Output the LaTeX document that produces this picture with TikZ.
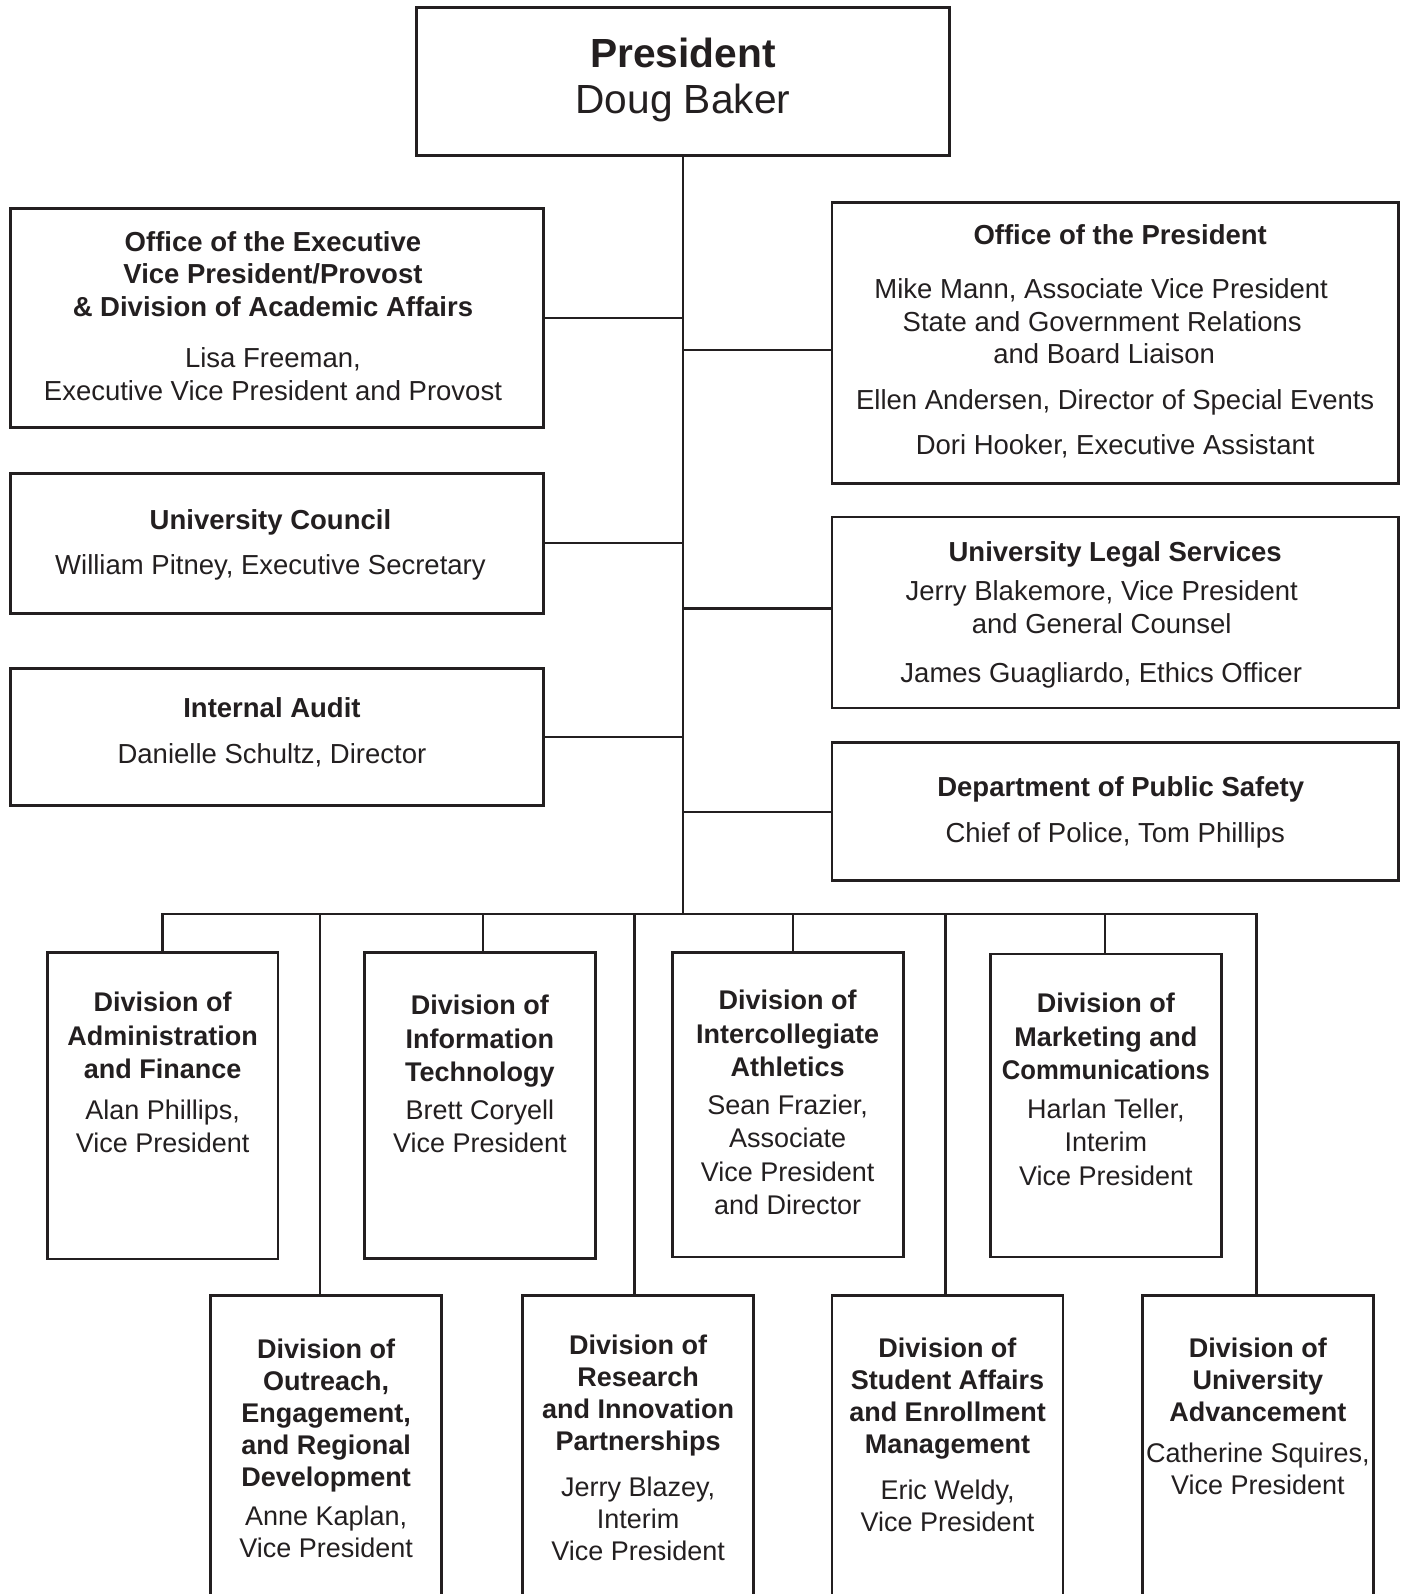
\documentclass[tikz,border=0pt]{standalone}
\usepackage{fontspec}
\usepackage{graphicx}
\setmainfont{Liberation Sans}
\usetikzlibrary{positioning}
\definecolor{ink}{RGB}{35,31,32}

\begin{document}
\begin{tikzpicture}
  [
    x = 1pt, y = -1pt, color = ink,
    box/.style = {draw, line width = 2.8pt, inner sep = 0pt, anchor = north west},
    link/.style = {line width = 2.3pt},
    txt/.style = {align = center, inner sep = 0pt,
                  font = \fontsize{27.5}{32.5}\selectfont},
    divtxt/.style = {txt, font = \fontsize{27}{33.5}\selectfont},
    divlow/.style = {txt, font = \fontsize{27}{32}\selectfont},
    bigtxt/.style = {txt, font = \fontsize{40.7}{46}\selectfont}
  ]
  \useasboundingbox (0,0) rectangle (1401,1594);
  \clip (0,0) rectangle (1401,1594);

  % president
  \node [box, minimum width = 533, minimum height = 148.5] (Pres) at (415,6) {};
  \node [bigtxt, below = 31.7pt of Pres.north] (PresT)
    {\textbf{President}\\ Doug Baker};

  % left column
  \node [box, minimum width = 532.7, minimum height = 218.6] (Prov) at (9.2,207.4) {};
  \node [txt, below = 23.6pt of Prov.north, xshift = -4pt] (ProvT)
    {\textbf{Office of the Executive}\\
     \textbf{Vice President/Provost}\\
     \textbf{\& Division of Academic Affairs}\\[19pt]
     Lisa Freeman,\\
     Executive Vice President and Provost};
  \node [box, minimum width = 532.7, minimum height = 140.3] (Council) at (9.2,471.7) {};
  \node [txt, below = 37.8pt of Council.north, xshift = -6.5pt] (CouncilT)
    {\textbf{University Council}\\[12pt]
     William Pitney, Executive Secretary};
  \node [box, minimum width = 532.7, minimum height = 137.2] (Audit) at (9.2,667) {};
  \node [txt, below = 30.6pt of Audit.north, xshift = -5pt] (AuditT)
    {\textbf{Internal Audit}\\[13pt]
     Danielle Schultz, Director};

  % right column
  \node [box, minimum width = 566.4, minimum height = 280.6] (Office) at (830.6,201.3) {};
  \node [txt, below = 22.6pt of Office.north] (OfficeT)
    {\textbf{Office of the President}\hspace*{-10pt}\\[22pt]
     \hspace*{-28pt}Mike Mann, Associate Vice President\\
     \hspace*{-26pt}State and Government Relations\\
     \hspace*{-22pt}and Board Liaison\\[13pt]
     Ellen Andersen, Director of Special Events\\[13pt]
     Dori Hooker, Executive Assistant};
  \node [box, minimum width = 566.4, minimum height = 191.1] (Legal) at (830.6,515.5) {};
  \node [txt, below = 25.5pt of Legal.north] (LegalT)
    {\textbf{University Legal Services}\\[7pt]
     \hspace*{-27pt}Jerry Blakemore, Vice President\\
     \hspace*{-27pt}and General Counsel\\[17pt]
     James Guagliardo, Ethics Officer\hspace*{28pt}};
  \node [box, minimum width = 566.4, minimum height = 138.2] (Safety) at (830.6,741.2) {};
  \node [txt, below = 34.8pt of Safety.north] (SafetyT)
    {\hspace*{11pt}\textbf{Department of Public Safety}\\[14pt]
     Chief of Police, Tom Phillips};

  % divisions, upper row
  \node [box, minimum width = 230.7, minimum height = 306.5] (Admin) at (45.8,951) {};
  \node [divtxt, below = 41pt of Admin.north] (AdminT)
    {\textbf{Division of}\\ \textbf{Administration}\\ \textbf{and Finance}\\[7pt]
     Alan Phillips,\\ Vice President};
  \node [box, minimum width = 231, minimum height = 306] (Tech) at (363,951) {};
  \node [divtxt, below = 44pt of Tech.north] (TechT)
    {\textbf{Division of}\\ \textbf{Information}\\ \textbf{Technology}\\[4pt]
     Brett Coryell\\ Vice President};
  \node [box, minimum width = 231, minimum height = 304.5] (Athl) at (670.7,951) {};
  \node [divtxt, below = 39pt of Athl.north] (AthlT)
    {\textbf{Division of}\\ \textbf{Intercollegiate}\\ \textbf{Athletics}\\[4pt]
     Sean Frazier,\\ Associate\\ Vice President\\ and Director};
  \node [box, minimum width = 231, minimum height = 303] (Market) at (989,952.6) {};
  \node [divtxt, below = 40.5pt of Market.north] (MarketT)
    {\textbf{Division of}\\ \textbf{Marketing and}\\
     \scalebox{0.95}[1]{\textbf{Communications}}\\[5pt]
     Harlan Teller,\\ Interim\\ Vice President};

  % divisions, lower row (run off the page)
  \node [box, minimum width = 230.6, minimum height = 400] (Outreach) at (209.4,1294) {};
  \node [divlow, below = 45pt of Outreach.north] (OutreachT)
    {\textbf{Division of}\\ \textbf{Outreach,}\\ \textbf{Engagement,}\\
     \textbf{and Regional}\\ \textbf{Development}\\[7pt]
     Anne Kaplan,\\ Vice President};
  \node [box, minimum width = 231.3, minimum height = 400] (Research) at (521,1294) {};
  \node [divlow, below = 41pt of Research.north] (ResearchT)
    {\textbf{Division of}\\ \textbf{Research}\\ \textbf{and Innovation}\\
     \textbf{Partnerships}\\[14pt]
     Jerry Blazey,\\ Interim\\ Vice President};
  \node [box, minimum width = 231, minimum height = 400] (Student) at (830.6,1294) {};
  \node [divlow, below = 44pt of Student.north] (StudentT)
    {\textbf{Division of}\\ \textbf{Student Affairs}\\ \textbf{and Enrollment}\\
     \textbf{Management}\\[14pt]
     Eric Weldy,\\ Vice President};
  \node [box, minimum width = 231, minimum height = 400] (Advance) at (1141,1294) {};
  \node [divlow, below = 44pt of Advance.north] (AdvanceT)
    {\textbf{Division of}\\ \textbf{University}\\ \textbf{Advancement}\\[9pt]
     Catherine Squires,\\ Vice President};

  % trunk and side links
  \coordinate (BusR) at (1256.6,914);
  \draw [link] (Pres.south) -- (Pres.south |- BusR);
  \draw [link] (Prov.east) -- (Prov.east -| Pres.south);
  \draw [link] (Council.east) -- (Council.east -| Pres.south);
  \draw [link] (Audit.east) -- (Audit.east -| Pres.south);
  \draw [link] ([yshift=-7pt]Office.west) -- ([yshift=-7pt]Office.west -| Pres.south);
  \draw [link] ([yshift=4pt]Legal.west) -- ([yshift=4pt]Legal.west -| Pres.south);
  \draw [link] (Safety.west) -- (Safety.west -| Pres.south);

  % bus and drops
  \draw [link] (Admin.north) |- (BusR) -- (BusR |- Advance.north);
  \coordinate (JTech) at (482.7,914);
  \coordinate (JAthl) at (793.3,914);
  \coordinate (JMarket) at (1105.3,914);
  \coordinate (JOutreach) at (320.3,914);
  \coordinate (JResearch) at (634.4,914);
  \coordinate (JStudent) at (945.5,914);
  \draw [link] (JTech) -- (JTech |- Tech.north);
  \draw [link] (JAthl) -- (JAthl |- Athl.north);
  \draw [link] (JMarket) -- (JMarket |- Market.north);
  \draw [link] (JOutreach) -- (JOutreach |- Outreach.north);
  \draw [link] (JResearch) -- (JResearch |- Research.north);
  \draw [link] (JStudent) -- (JStudent |- Student.north);
\end{tikzpicture}
\end{document}
